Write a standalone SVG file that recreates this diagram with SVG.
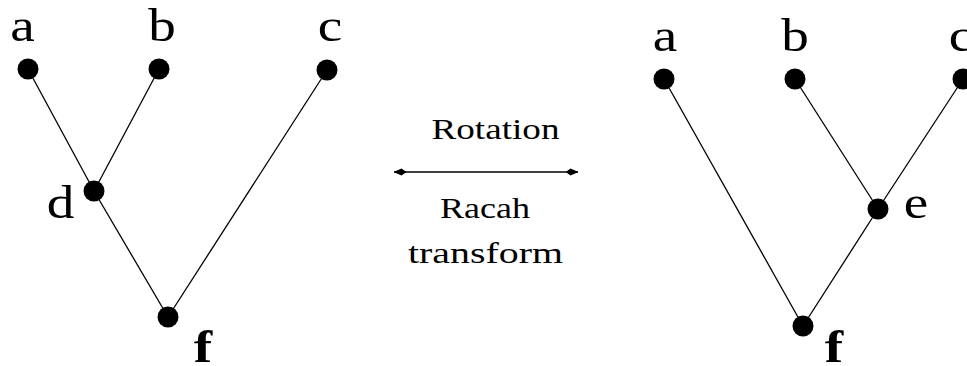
<svg xmlns="http://www.w3.org/2000/svg" width="967" height="366" viewBox="0 0 967 366">
<style>
.lbl{font-family:"Liberation Serif","Times New Roman",serif;font-size:46px;fill:#000;text-anchor:middle}
.bold{font-weight:bold}
.ann{font-family:"Liberation Serif","Times New Roman",serif;font-size:30px;fill:#000;text-anchor:middle}
.edge{stroke:#000;stroke-width:1.3;fill:none}
.dot{fill:#000}
</style>
<defs>
<marker id="ah" viewBox="0 0 13 8" refX="12.5" refY="4" markerWidth="13" markerHeight="8" markerUnits="userSpaceOnUse" orient="auto-start-reverse">
<path d="M0,4 L5,0.5 L13,4 L5,7.5 Z" fill="#000"/>
</marker>
</defs>
<rect width="967" height="366" fill="#fff"/>
<g id="connectors">
<line class="edge" x1="28" y1="69" x2="94" y2="191"/>
<line class="edge" x1="159" y1="69" x2="94" y2="191"/>
<line class="edge" x1="94" y1="191" x2="168" y2="317"/>
<line class="edge" x1="327" y1="70" x2="168" y2="317"/>
<line class="edge" x1="664" y1="79" x2="803" y2="326"/>
<line class="edge" x1="795" y1="79" x2="878" y2="209"/>
<line class="edge" x1="963" y1="79" x2="878" y2="209"/>
<line class="edge" x1="878" y1="209" x2="803" y2="326"/>
<line class="edge" x1="394" y1="172" x2="578" y2="172" marker-start="url(#ah)" marker-end="url(#ah)"/>
</g>
<g id="left-a"><circle class="dot" cx="28" cy="69" r="10.5"/><text class="lbl" transform="translate(22.5,40.5) scale(1.2,1)">a</text></g>
<g id="left-b"><circle class="dot" cx="159" cy="69" r="10.5"/><text class="lbl" transform="translate(162,40.5) scale(1.2,1)">b</text></g>
<g id="left-c"><circle class="dot" cx="327" cy="70" r="10.5"/><text class="lbl" transform="translate(330,40.5) scale(1.2,1)">c</text></g>
<g id="left-d"><circle class="dot" cx="94" cy="191" r="10.5"/><text class="lbl" transform="translate(60.5,218) scale(1.2,1)">d</text></g>
<g id="left-f"><circle class="dot" cx="168" cy="317" r="10.5"/><text class="lbl bold" transform="translate(203,362) scale(1.2,1)">f</text></g>
<g id="right-a"><circle class="dot" cx="664" cy="79" r="10.5"/><text class="lbl" transform="translate(665,51) scale(1.2,1)">a</text></g>
<g id="right-b"><circle class="dot" cx="795" cy="79" r="10.5"/><text class="lbl" transform="translate(795,51) scale(1.2,1)">b</text></g>
<g id="right-c"><circle class="dot" cx="963" cy="79" r="10.5"/><text class="lbl" transform="translate(961,51) scale(1.2,1)">c</text></g>
<g id="right-e"><circle class="dot" cx="878" cy="209" r="10.5"/><text class="lbl" transform="translate(916,218) scale(1.2,1)">e</text></g>
<g id="right-f"><circle class="dot" cx="803" cy="326" r="10.5"/><text class="lbl bold" transform="translate(834,362) scale(1.2,1)">f</text></g>
<g id="annotation">
<text class="ann" x="495.5" y="139" textLength="128" lengthAdjust="spacingAndGlyphs">Rotation</text>
<text class="ann" x="485" y="218" textLength="90" lengthAdjust="spacingAndGlyphs">Racah</text>
<text class="ann" x="485.5" y="263" textLength="155" lengthAdjust="spacingAndGlyphs">transform</text>
</g>
</svg>
